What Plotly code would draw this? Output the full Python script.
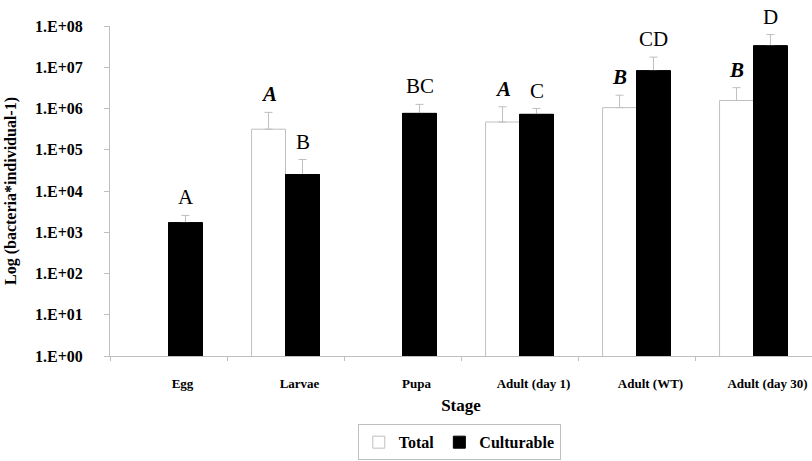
import plotly.graph_objects as go
import math

stages = ["Egg", "Larvae", "Pupa", "Adult (day 1)", "Adult (WT)", "Adult (day 30)"]
total = [None, 3.15e5, None, 4.7e5, 1.05e6, 1.56e6]
total_err = [0, 4.9e5, 0, 6.3e5, 1.05e6, 1.64e6]
cult = [1.7e3, 2.5e4, 7.6e5, 7.2e5, 8.2e6, 3.3e7]
cult_err = [0.86e3, 3.3e4, 5.0e5, 2.8e5, 9.4e6, 2.9e7]
total_letters = ["", "A", "", "A", "B", "B"]
cult_letters = ["A", "B", "BC", "C", "CD", "D"]
ytick_vals = [1e0, 1e1, 1e2, 1e3, 1e4, 1e5, 1e6, 1e7, 1e8]
ytick_text = ["1.E+00", "1.E+01", "1.E+02", "1.E+03", "1.E+04", "1.E+05", "1.E+06", "1.E+07", "1.E+08"]

FONT = "Liberation Serif"
GRAY = "#bfbfbf"

fig = go.Figure()
fig.add_trace(go.Bar(
    name="<b>Total</b>", x=stages, y=total, offsetgroup="t",
    marker=dict(color="white", line=dict(color=GRAY, width=1)),
    error_y=dict(type="data", array=total_err, symmetric=False, arrayminus=[0]*6,
                 color=GRAY, thickness=1, width=4),
))
fig.add_trace(go.Bar(
    name="<b>Culturable</b>", x=stages, y=cult, offsetgroup="c",
    marker=dict(color="black", line=dict(color="black", width=1)),
    error_y=dict(type="data", array=cult_err, symmetric=False, arrayminus=[0]*6,
                 color=GRAY, thickness=1, width=4),
))
# same bars drawn again on top so the lower error-bar cap is hidden
fig.add_trace(go.Bar(
    name="Culturable", x=stages, y=cult, offsetgroup="c", showlegend=False,
    marker=dict(color="black", line=dict(color="black", width=1)),
))

annotations = []
for i, s in enumerate(stages):
    if total_letters[i] and total[i] is not None:
        annotations.append(dict(
            x=s, y=math.log10(total[i] + total_err[i]), xref="x", yref="y",
            text="<b><i>" + total_letters[i] + "</i></b>", showarrow=False,
            xshift=-17, yshift=4, yanchor="bottom",
            font=dict(family=FONT, size=21, color="black")))
    if cult_letters[i]:
        annotations.append(dict(
            x=s, y=math.log10(cult[i] + cult_err[i]), xref="x", yref="y",
            text=cult_letters[i], showarrow=False,
            xshift=17, yshift=4, yanchor="bottom",
            font=dict(family=FONT, size=21, color="black")))

annotations.append(dict(
    x=-0.141, y=0.5, xref="paper", yref="paper", textangle=-90,
    text="<b>Log (bacteria*individual-1)</b>", showarrow=False,
    xanchor="center", yanchor="middle",
    font=dict(family=FONT, size=16, color="black")))

fig.update_layout(
    width=812, height=461,
    margin=dict(l=110, r=0, t=26, b=105, autoexpand=False),
    paper_bgcolor="white", plot_bgcolor="white",
    barmode="group", bargap=0.42, bargroupgap=0,
    font=dict(family=FONT, color="black"),
    annotations=annotations,
    showlegend=True,
    legend=dict(orientation="h", x=0.353, xanchor="left", y=-0.316, yanchor="bottom",
                bordercolor=GRAY, borderwidth=1,
                font=dict(family=FONT, size=16, color="black"),
                itemwidth=30, tracegroupgap=0),
    xaxis=dict(
        automargin=False,
        showline=True, linecolor=GRAY, linewidth=1,
        ticks="outside", tickson="boundaries", ticklen=4, tickcolor=GRAY,
        tickfont=dict(family=FONT, size=13, color="black"),
        tickprefix="<b>", ticksuffix="</b>",
        ticklabelstandoff=15, ticklabelshift=14,
        showgrid=False,
        title=dict(text="<b>Stage</b>", font=dict(family=FONT, size=17, color="black"), standoff=9),
    ),
    yaxis=dict(
        automargin=False,
        type="log", range=[0, 8],
        showline=True, linecolor=GRAY, linewidth=1,
        ticks="outside", ticklen=5, tickcolor=GRAY,
        tickvals=ytick_vals, ticktext=["<b>" + t + "</b>" for t in ytick_text],
        tickfont=dict(family=FONT, size=16, color="black"),
        ticklabelstandoff=18,
        showgrid=False, zeroline=False,
    ),
)

fig.write_html("out.html", config={"displayModeBar": False},
               post_script="document.body.style.margin='0px';")
